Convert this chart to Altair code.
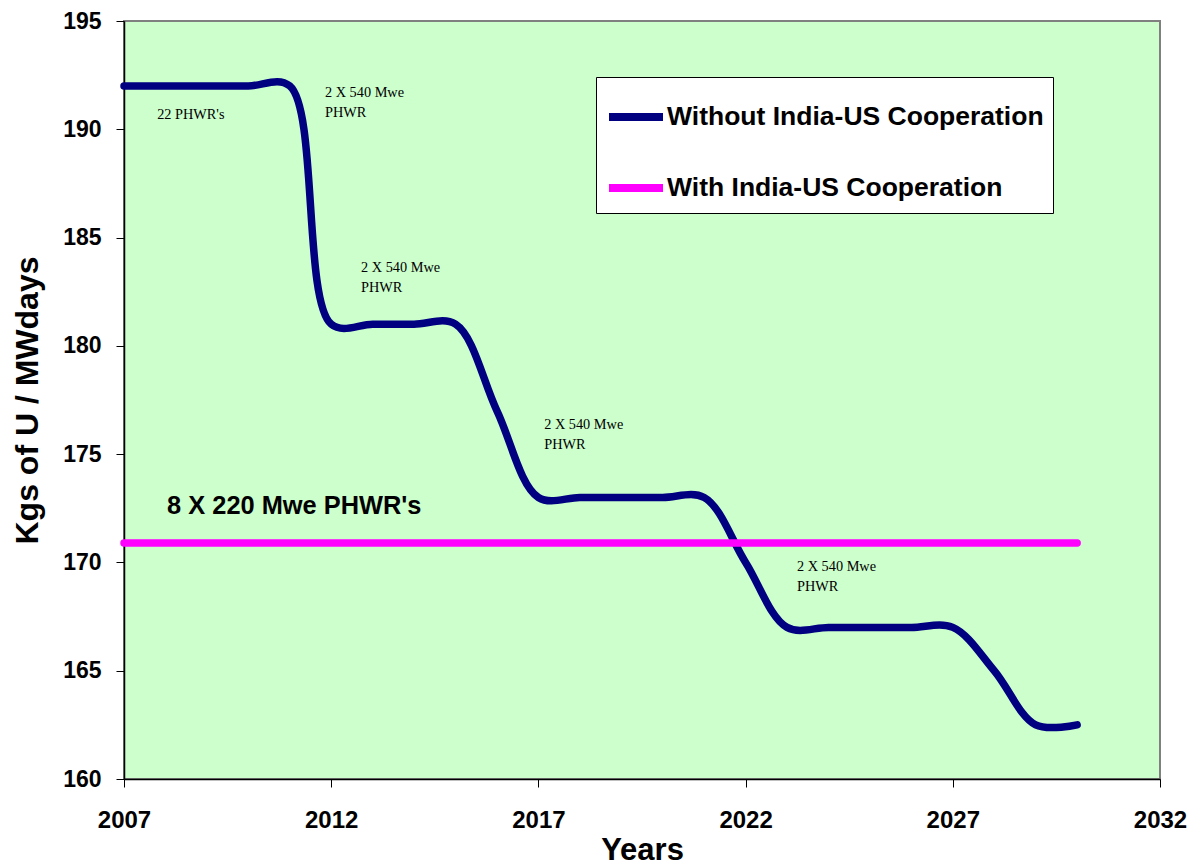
import altair as alt
import pandas as pd

# ---- data ----
years = [2007, 2008, 2009, 2010, 2011, 2012, 2013, 2014, 2015, 2016, 2017, 2018,
         2019, 2020, 2021, 2022, 2023, 2024, 2025, 2026, 2027, 2028, 2029, 2030]
without_coop = [192, 192, 192, 192, 192, 181, 181, 181, 181, 177, 173, 173,
                173, 173, 173, 170, 167, 167, 167, 167, 167, 165, 162.5, 162.5]
with_coop = [170.9, 170.9, 170.9, 170.9, 170.9, 170.9, 170.9, 170.9, 170.9, 170.9, 170.9, 170.9,
             170.9, 170.9, 170.9, 170.9, 170.9, 170.9, 170.9, 170.9, 170.9, 170.9, 170.9, 170.9]
series_names = ["Without India-US Cooperation", "With India-US Cooperation"]
series_colors = ["#000080", "#FF00FF"]

x_ticks = [2007, 2012, 2017, 2022, 2027, 2032]
y_ticks = [160, 165, 170, 175, 180, 185, 190, 195]

ann_text = ["22 PHWR's", "2 X 540 Mwe", "PHWR", "2 X 540 Mwe", "PHWR",
            "2 X 540 Mwe", "PHWR", "2 X 540 Mwe", "PHWR"]
ann_year = [2007.80, 2011.85, 2011.85, 2012.72, 2012.72, 2017.14, 2017.14, 2023.24, 2023.24]
ann_value = [190.66, 191.68, 190.75, 183.60, 182.67, 176.35, 175.42, 169.79, 168.87]

big_text = ["8 X 220 Mwe PHWR's"]
big_year = [2008.04]
big_value = [172.6]

# ---- tables ----
df = pd.DataFrame({
    "year": years + years,
    "value": without_coop + with_coop,
    "series": [series_names[0]] * len(years) + [series_names[1]] * len(years),
})
ann_df = pd.DataFrame({"year": ann_year, "value": ann_value, "text": ann_text})
big_df = pd.DataFrame({"year": big_year, "value": big_value, "text": big_text})

FONT = "Liberation Sans"

x_enc = alt.X("year:Q",
              scale=alt.Scale(domain=[2007, 2032], nice=False, zero=False),
              axis=alt.Axis(values=x_ticks, format="d", title="Years",
                            labelFlush=False, labelPadding=21,
                            titleX=518, titleY=71, titleAlign="center",
                            titleBaseline="middle"))
y_enc = alt.Y("value:Q",
              scale=alt.Scale(domain=[160, 195], nice=False, zero=False),
              axis=alt.Axis(values=y_ticks, title="Kgs of U / MWdays",
                            labelPadding=15, labelFontSize=23, titleFontSize=32,
                            titleX=-97, titleY=379, titleAngle=270,
                            titleAlign="center", titleBaseline="middle"))

lines = alt.Chart(df).mark_line(
    interpolate="catmull-rom", strokeWidth=7.5, strokeCap="round"
).encode(
    x=x_enc,
    y=y_enc,
    color=alt.Color("series:N",
                    scale=alt.Scale(domain=series_names, range=series_colors),
                    legend=alt.Legend(title=None, orient="none", legendX=472, legendY=56,
                                      symbolType="stroke", symbolSize=2916,
                                      symbolStrokeWidth=8, labelFontSize=26.5,
                                      labelFont=FONT, labelFontWeight="bold",
                                      labelColor="black", labelLimit=600,
                                      fillColor="white", strokeColor="black",
                                      padding=9, rowPadding=24, labelOffset=0)),
)

ann = alt.Chart(ann_df).mark_text(
    align="left", baseline="middle", font="Liberation Serif", fontSize=14.3, color="black"
).encode(x="year:Q", y="value:Q", text="text:N")

big = alt.Chart(big_df).mark_text(
    align="left", baseline="middle", font=FONT, fontSize=25.4, fontWeight="bold", color="black"
).encode(x="year:Q", y="value:Q", text="text:N")

chart = alt.layer(lines, ann, big).properties(
    width=1036, height=758,
    padding={"left": 124, "top": 21, "right": 31, "bottom": 86},
    autosize=alt.AutoSizeParams(type="none"),
    background="white",
).configure_view(
    fill="#CCFFCC", stroke="#808080", strokeWidth=2
).configure_axis(
    grid=False, labelFont=FONT, titleFont=FONT, labelFontWeight="bold",
    titleFontWeight="bold", labelFontSize=24, titleFontSize=31,
    labelColor="black", titleColor="black", domainColor="black",
    tickColor="black", tickSize=8, domainWidth=1.5
)

chart.save("out.html", embed_options={"renderer": "svg", "actions": False})
